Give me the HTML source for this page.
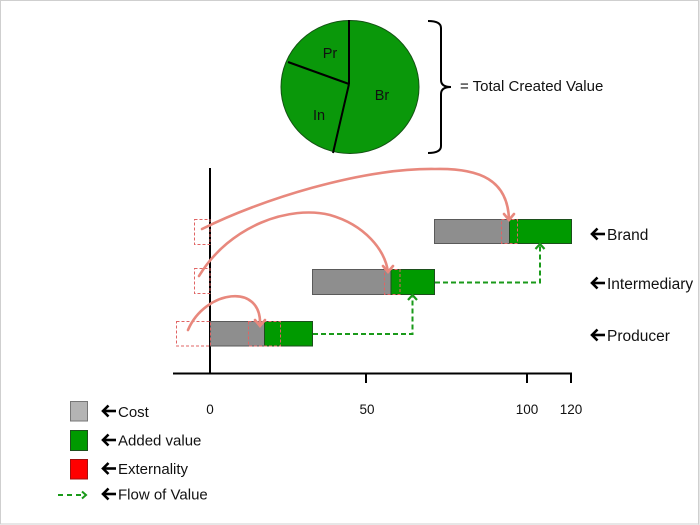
<!DOCTYPE html>
<html><head><meta charset="utf-8"><style>
html,body{margin:0;padding:0;background:#fff;}
body{width:700px;height:525px;overflow:hidden;position:relative;}
svg{position:absolute;left:0;top:0;}
text{font-family:"Liberation Sans",sans-serif;fill:#111;}
</style></head><body>
<svg width="700" height="525" viewBox="0 0 700 525" xmlns="http://www.w3.org/2000/svg">
<defs>
<g id="arr"><line x1="1" y1="0" x2="14" y2="0" stroke="#000" stroke-width="2.6"/><polyline points="6.5,-5.5 1,0 6.5,5.5" fill="none" stroke="#000" stroke-width="2.6"/></g>
</defs>
<!-- border -->
<rect x="0.5" y="0.5" width="698" height="523.5" fill="none" stroke="#cfcfcf" stroke-width="1"/>
<line x1="699" y1="0" x2="699" y2="525" stroke="#cfcfcf" stroke-width="1"/>

<!-- pie -->
<ellipse cx="350" cy="87" rx="69" ry="66.5" fill="#0a980a" stroke="#145214" stroke-width="1"/>
<line x1="349" y1="84" x2="349" y2="20" stroke="#000" stroke-width="2"/>
<line x1="349" y1="84" x2="288" y2="62" stroke="#000" stroke-width="2"/>
<line x1="349" y1="84" x2="333" y2="153" stroke="#000" stroke-width="2"/>
<text x="330" y="58" font-size="14.5" text-anchor="middle">Pr</text>
<text x="382" y="100" font-size="14.5" text-anchor="middle">Br</text>
<text x="319" y="120" font-size="14.5" text-anchor="middle">In</text>
<!-- brace -->
<path d="M428,21 Q441,21 441,28 L441,80 Q441,87 451,87 Q441,87 441,94 L441,146 Q441,153 428,153" fill="none" stroke="#000" stroke-width="2"/>
<text x="460" y="91" font-size="15">= Total Created Value</text>

<!-- axes -->
<line x1="210" y1="168" x2="210" y2="374" stroke="#000" stroke-width="2"/>
<line x1="173" y1="373.5" x2="572" y2="373.5" stroke="#000" stroke-width="2"/>
<line x1="366" y1="373" x2="366" y2="383" stroke="#000" stroke-width="2"/>
<line x1="527" y1="373" x2="527" y2="383" stroke="#000" stroke-width="2"/>
<line x1="571" y1="373" x2="571" y2="383" stroke="#000" stroke-width="2"/>
<text x="210" y="414" font-size="13.5" text-anchor="middle">0</text>
<text x="367" y="414" font-size="13.5" text-anchor="middle">50</text>
<text x="527" y="414" font-size="13.5" text-anchor="middle">100</text>
<text x="571" y="414" font-size="13.5" text-anchor="middle">120</text>

<!-- producer bar -->
<rect x="210.5" y="321.5" width="54" height="24.5" fill="#8e8e8e" stroke="#5a5a5a" stroke-width="1"/>
<rect x="264.5" y="321.5" width="48" height="24.5" fill="#009a00" stroke="#1c4f1c" stroke-width="1"/>
<!-- intermediary bar -->
<rect x="312.5" y="269.5" width="78.5" height="25" fill="#8e8e8e" stroke="#5a5a5a" stroke-width="1"/>
<rect x="391" y="269.5" width="43.5" height="25" fill="#009a00" stroke="#1c4f1c" stroke-width="1"/>
<!-- brand bar -->
<rect x="434.5" y="219.5" width="75" height="24" fill="#8e8e8e" stroke="#5a5a5a" stroke-width="1"/>
<rect x="509.5" y="219.5" width="62" height="24" fill="#009a00" stroke="#1c4f1c" stroke-width="1"/>

<!-- dashed externality rects -->
<g fill="none" stroke="#e06464" stroke-width="1" stroke-dasharray="3,2">
<rect x="176.5" y="321.5" width="34" height="24.5"/>
<rect x="248.5" y="321.5" width="32" height="24.5"/>
<rect x="194.5" y="268.5" width="15.5" height="25"/>
<rect x="384.5" y="269.5" width="15.5" height="25"/>
<rect x="194.5" y="219.5" width="15.5" height="25"/>
<rect x="501.5" y="219.5" width="16" height="24"/>
</g>

<!-- red curves -->
<g fill="none" stroke="#e8887d" stroke-width="2.6" stroke-linecap="round">
<path d="M188,330 C205,290 262,282 260,325"/>
<polyline points="255,320 260,326 265,320"/>
<path d="M199,276 C230,225 290,205 330,215 C365,225 385,250 388,272"/>
<polyline points="383,266 388,272 393,266"/>
<path d="M202,229 C260,200 360,168 435,169 C480,168 508,180 509,220"/>
<polyline points="504,214 509,220 514,214"/>
</g>

<!-- green flow -->
<g fill="none" stroke="#1a9a1a" stroke-width="2" stroke-dasharray="5,3">
<path d="M313,334 H412.5 V297"/>
<path d="M435,282.5 H540 V246"/>
</g>
<g fill="none" stroke="#1a9a1a" stroke-width="2.2">
<polyline points="408,300 412.5,295 417,300"/>
<polyline points="535.5,249 540,244 544.5,249"/>
</g>

<!-- right labels -->
<use href="#arr" x="591" y="234"/>
<text x="607" y="240" font-size="15.5">Brand</text>
<use href="#arr" x="591" y="283"/>
<text x="607" y="289" font-size="15.5">Intermediary</text>
<use href="#arr" x="591" y="335"/>
<text x="607" y="341" font-size="15.5">Producer</text>

<!-- legend -->
<rect x="70.5" y="401.5" width="17" height="19.5" fill="#b4b4b4" stroke="#777" stroke-width="1"/>
<rect x="70.5" y="430.5" width="17" height="20" fill="#009a00" stroke="#1c4f1c" stroke-width="1"/>
<rect x="70.5" y="459.5" width="17" height="19.5" fill="#ff0000" stroke="#a01010" stroke-width="1"/>
<line x1="58" y1="495" x2="85" y2="495" stroke="#1a9a1a" stroke-width="2" stroke-dasharray="5,4"/>
<polyline points="82,491.5 86,495 82,498.5" fill="none" stroke="#1a9a1a" stroke-width="2"/>
<use href="#arr" x="102" y="411"/>
<text x="118" y="417" font-size="15">Cost</text>
<use href="#arr" x="102" y="440"/>
<text x="118" y="445.5" font-size="15">Added value</text>
<use href="#arr" x="102" y="468.5"/>
<text x="118" y="474" font-size="15">Externality</text>
<use href="#arr" x="102" y="494"/>
<text x="118" y="499.5" font-size="15">Flow of Value</text>
</svg>
</body></html>
